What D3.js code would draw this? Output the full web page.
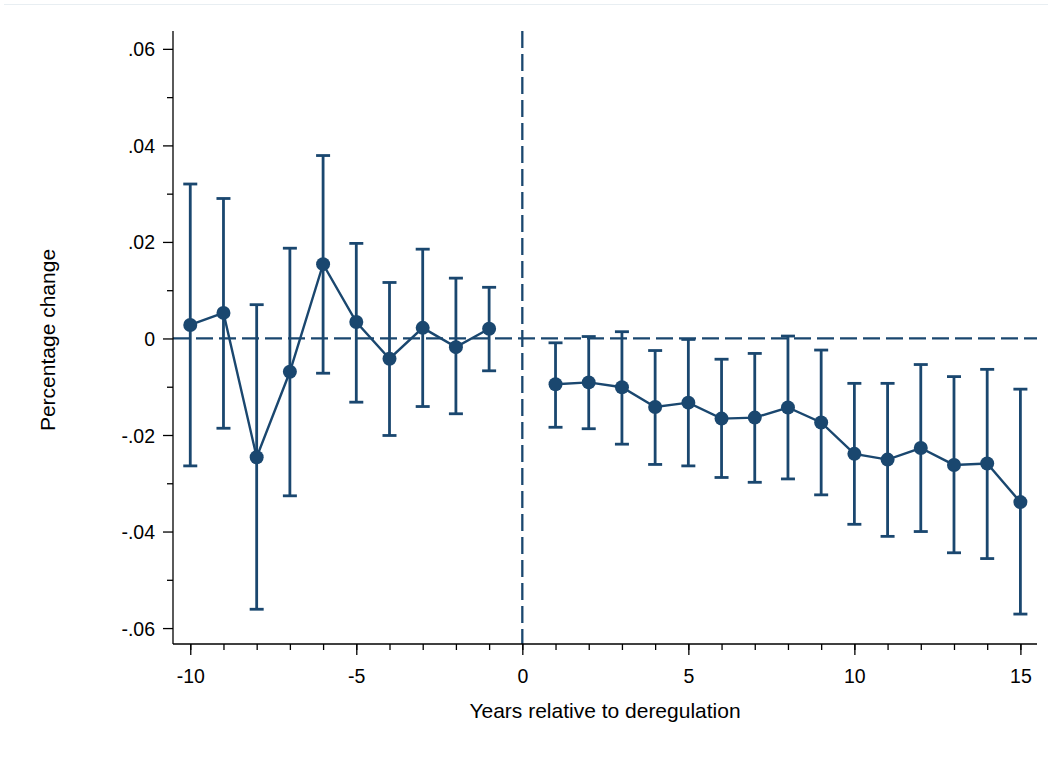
<!DOCTYPE html>
<html>
<head>
<meta charset="utf-8">
<script src="https://cdn.jsdelivr.net/npm/d3@7"></script>
<style>
  body { margin: 0; background: #fff; }
  svg text { font-family: "Liberation Sans", Arial, sans-serif; fill: #000; }
</style>
</head>
<body>
<div id="chart"></div>
<script>
// Event-study estimates
const years = [-10, -9, -8, -7, -6, -5, -4, -3, -2, -1,
  1, 2, 3, 4, 5, 6, 7, 8, 9, 10, 11, 12, 13, 14, 15];
const estimates = [0.0028, 0.0053, -0.0246, -0.0069, 0.0154, 0.0034, -0.0042, 0.0022, -0.0018, 0.0020,
  -0.0095, -0.0091, -0.0101, -0.0142, -0.0133, -0.0166, -0.0164, -0.0143, -0.0174, -0.0239, -0.0251, -0.0227, -0.0262, -0.0259, -0.0339];
const upper = [0.0320, 0.0290, 0.0070, 0.0187, 0.0379, 0.0197, 0.0116, 0.0185, 0.0125, 0.0106,
  -0.0009, 0.0004, 0.0014, -0.0025, -0.0002, -0.0043, -0.0031, 0.0005, -0.0024, -0.0093, -0.0093, -0.0054, -0.0079, -0.0064, -0.0105];
const lower = [-0.0264, -0.0186, -0.0561, -0.0326, -0.0072, -0.0132, -0.0201, -0.0141, -0.0156, -0.0067,
  -0.0184, -0.0187, -0.0219, -0.0261, -0.0264, -0.0288, -0.0298, -0.0291, -0.0324, -0.0385, -0.0410, -0.0400, -0.0444, -0.0456, -0.0571];

const xTicks = [-10, -5, 0, 5, 10, 15];
const xMinor = d3.range(-10, 16);
const yTicks = [-0.06, -0.04, -0.02, 0, 0.02, 0.04, 0.06];
const yMinor = [-0.05, -0.03, -0.01, 0.01, 0.03, 0.05];

const data = years.map((yr, i) => ({ year: yr, est: estimates[i], hi: upper[i], lo: lower[i] }));

const W = 1052, H = 769;
const margin = { top: 31, right: 15, bottom: 125, left: 173 };
const width = W - margin.left - margin.right;
const height = H - margin.top - margin.bottom;
const navy = "#1a476f";

const svg = d3.select("#chart")
  .append("svg")
  .attr("width", W)
  .attr("height", H);

// faint graph-region border line at the top
svg.append("line")
  .attr("x1", 4).attr("x2", W - 4)
  .attr("y1", 4.5).attr("y2", 4.5)
  .attr("stroke", "#e8eef2")
  .attr("stroke-width", 1);

const g = svg.append("g")
  .attr("transform", `translate(${margin.left},${margin.top})`);

const x = d3.scaleLinear().domain([-10.52, 15.5]).range([0, width]);
const y = d3.scaleLinear().domain([-0.0633, 0.0637]).range([height, 0]);

// reference lines
g.append("line")
  .attr("x1", 0).attr("x2", width)
  .attr("y1", y(0)).attr("y2", y(0))
  .attr("stroke", navy).attr("stroke-width", 2.3)
  .attr("stroke-dasharray", "17,6");

g.append("line")
  .attr("x1", x(0)).attr("x2", x(0))
  .attr("y1", 0).attr("y2", height)
  .attr("stroke", navy).attr("stroke-width", 2.3)
  .attr("stroke-dasharray", "17,6");

// axes (hyphen minus like the original, not d3's unicode minus)
const fmtX = d => String(d);
const fmtY = d => d === 0 ? "0" : (d < 0 ? "-" : "") + d3.format(".2f")(Math.abs(d)).replace(/^0/, "");

const xAxis = g.append("g")
  .attr("transform", `translate(0,${height})`)
  .call(d3.axisBottom(x).tickValues(xTicks).tickSize(11).tickPadding(14).tickFormat(fmtX));
const xMinorAxis = g.append("g")
  .attr("transform", `translate(0,${height})`)
  .call(d3.axisBottom(x).tickValues(xMinor).tickSize(6).tickFormat(""));

const yAxis = g.append("g")
  .call(d3.axisLeft(y).tickValues(yTicks).tickSize(10).tickPadding(8).tickFormat(fmtY));
const yMinorAxis = g.append("g")
  .call(d3.axisLeft(y).tickValues(yMinor).tickSize(6).tickFormat(""));

g.selectAll(".domain").remove();
g.append("line").attr("x1", 0).attr("x2", width).attr("y1", height).attr("y2", height)
  .attr("stroke", "#000").attr("stroke-width", 1.3);
g.append("line").attr("x1", 0).attr("x2", 0).attr("y1", 0).attr("y2", height)
  .attr("stroke", "#000").attr("stroke-width", 1.3);

g.selectAll(".tick line").attr("stroke", "#000").attr("stroke-width", 1.3);
g.selectAll(".tick text").style("font-size", "19.5px").attr("fill", "#000");
yAxis.selectAll(".tick text").attr("dy", "0.36em");

// error bars
const bars = g.selectAll(".ci").data(data).enter().append("g").attr("class", "ci");
bars.append("line")
  .attr("x1", d => x(d.year)).attr("x2", d => x(d.year))
  .attr("y1", d => y(d.hi)).attr("y2", d => y(d.lo))
  .attr("stroke", navy).attr("stroke-width", 2.8);
bars.append("line")
  .attr("x1", d => x(d.year) - 7).attr("x2", d => x(d.year) + 7)
  .attr("y1", d => y(d.hi)).attr("y2", d => y(d.hi))
  .attr("stroke", navy).attr("stroke-width", 2.8);
bars.append("line")
  .attr("x1", d => x(d.year) - 7).attr("x2", d => x(d.year) + 7)
  .attr("y1", d => y(d.lo)).attr("y2", d => y(d.lo))
  .attr("stroke", navy).attr("stroke-width", 2.8);

// connected point estimates (pre and post drawn separately)
const line = d3.line().x(d => x(d.year)).y(d => y(d.est));
g.append("path").datum(data.filter(d => d.year < 0))
  .attr("fill", "none").attr("stroke", navy).attr("stroke-width", 2.4).attr("d", line);
g.append("path").datum(data.filter(d => d.year > 0))
  .attr("fill", "none").attr("stroke", navy).attr("stroke-width", 2.4).attr("d", line);

g.selectAll("circle").data(data).enter().append("circle")
  .attr("cx", d => x(d.year)).attr("cy", d => y(d.est))
  .attr("r", 7).attr("fill", navy);

// axis titles
svg.append("text")
  .attr("x", 605)
  .attr("y", 718)
  .attr("text-anchor", "middle")
  .style("font-size", "21px")
  .text("Years relative to deregulation");

svg.append("text")
  .attr("transform", "rotate(-90)")
  .attr("x", -340)
  .attr("y", 55)
  .attr("text-anchor", "middle")
  .style("font-size", "21px")
  .text("Percentage change");
</script>
</body>
</html>
